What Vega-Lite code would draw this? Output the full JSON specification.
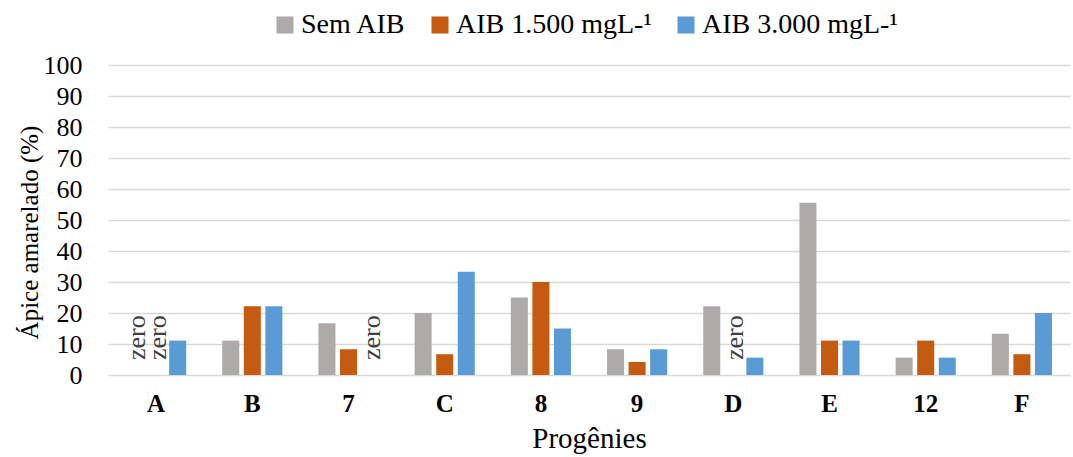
{
  "$schema": "https://vega.github.io/schema/vega-lite/v6.json",
  "width": 962,
  "height": 310,
  "autosize": "none",
  "padding": {"left": 108, "top": 65, "right": 3, "bottom": 82},
  "background": "white",
  "config": {
    "view": {"stroke": null},
    "font": "Liberation Serif",
    "axis": {"titleFont": "Liberation Serif", "labelFont": "Liberation Serif"},
    "legend": {"labelFont": "Liberation Serif"}
  },
  "data": {
    "values": [
      {"prog": "A", "trat": "Sem AIB", "val": 0},
      {"prog": "A", "trat": "AIB 1.500 mgL-¹", "val": 0},
      {"prog": "A", "trat": "AIB 3.000 mgL-¹", "val": 11.1},
      {"prog": "B", "trat": "Sem AIB", "val": 11.1},
      {"prog": "B", "trat": "AIB 1.500 mgL-¹", "val": 22.2},
      {"prog": "B", "trat": "AIB 3.000 mgL-¹", "val": 22.2},
      {"prog": "7", "trat": "Sem AIB", "val": 16.7},
      {"prog": "7", "trat": "AIB 1.500 mgL-¹", "val": 8.3},
      {"prog": "7", "trat": "AIB 3.000 mgL-¹", "val": 0},
      {"prog": "C", "trat": "Sem AIB", "val": 20},
      {"prog": "C", "trat": "AIB 1.500 mgL-¹", "val": 6.7},
      {"prog": "C", "trat": "AIB 3.000 mgL-¹", "val": 33.3},
      {"prog": "8", "trat": "Sem AIB", "val": 25},
      {"prog": "8", "trat": "AIB 1.500 mgL-¹", "val": 30},
      {"prog": "8", "trat": "AIB 3.000 mgL-¹", "val": 15},
      {"prog": "9", "trat": "Sem AIB", "val": 8.3},
      {"prog": "9", "trat": "AIB 1.500 mgL-¹", "val": 4.2},
      {"prog": "9", "trat": "AIB 3.000 mgL-¹", "val": 8.3},
      {"prog": "D", "trat": "Sem AIB", "val": 22.2},
      {"prog": "D", "trat": "AIB 1.500 mgL-¹", "val": 0},
      {"prog": "D", "trat": "AIB 3.000 mgL-¹", "val": 5.6},
      {"prog": "E", "trat": "Sem AIB", "val": 55.6},
      {"prog": "E", "trat": "AIB 1.500 mgL-¹", "val": 11.1},
      {"prog": "E", "trat": "AIB 3.000 mgL-¹", "val": 11.1},
      {"prog": "12", "trat": "Sem AIB", "val": 5.6},
      {"prog": "12", "trat": "AIB 1.500 mgL-¹", "val": 11.1},
      {"prog": "12", "trat": "AIB 3.000 mgL-¹", "val": 5.6},
      {"prog": "F", "trat": "Sem AIB", "val": 13.3},
      {"prog": "F", "trat": "AIB 1.500 mgL-¹", "val": 6.7},
      {"prog": "F", "trat": "AIB 3.000 mgL-¹", "val": 20}
    ]
  },
  "encoding": {
    "x": {
      "field": "prog",
      "type": "nominal",
      "sort": ["A", "B", "7", "C", "8", "9", "D", "E", "12", "F"],
      "scale": {"paddingInner": 0.33, "paddingOuter": 0.165},
      "axis": {
        "title": "Progênies",
        "titleFont": "Liberation Serif",
        "titleFontSize": 29,
        "titleFontWeight": "normal",
        "titleColor": "#000000",
        "titlePadding": 8,
        "labelAngle": 0,
        "labelFont": "Liberation Serif",
        "labelFontSize": 25,
        "labelFontWeight": "bold",
        "labelColor": "#000000",
        "labelPadding": 16,
        "domain": false,
        "ticks": false
      }
    },
    "xOffset": {
      "field": "trat",
      "type": "nominal",
      "sort": ["Sem AIB", "AIB 1.500 mgL-¹", "AIB 3.000 mgL-¹"],
      "scale": {"paddingInner": 0.21, "paddingOuter": 0.1}
    }
  },
  "layer": [
    {
      "mark": {"type": "bar"},
      "encoding": {
        "y": {
          "field": "val",
          "type": "quantitative",
          "scale": {"domain": [0, 100]},
          "axis": {
            "title": "Ápice amarelado (%)",
            "titleFont": "Liberation Serif",
            "titleFontSize": 25,
            "titleFontWeight": "normal",
            "titleColor": "#000000",
            "titleX": -79,
            "titleY": 167,
            "titleBaseline": "middle",
            "titleAlign": "center",
            "titleAngle": 270,
            "values": [0, 10, 20, 30, 40, 50, 60, 70, 80, 90, 100],
            "tickCount": 11,
            "labelOverlap": false,
            "labelFont": "Liberation Serif",
            "labelFontSize": 26,
            "labelColor": "#000000",
            "labelPadding": 26,
            "domain": false,
            "ticks": false,
            "gridColor": "#D9D9D9",
            "gridWidth": 1.5
          }
        },
        "color": {
          "field": "trat",
          "type": "nominal",
          "sort": ["Sem AIB", "AIB 1.500 mgL-¹", "AIB 3.000 mgL-¹"],
          "scale": {"range": ["#AEAAAA", "#C55A11", "#5B9BD5"]},
          "legend": {
            "title": null,
            "orient": "none",
            "legendX": 163,
            "legendY": -54,
            "direction": "horizontal",
            "symbolType": "square",
            "symbolSize": 290,
            "symbolStrokeWidth": 0,
            "labelFont": "Liberation Serif",
            "labelFontSize": 28,
            "labelColor": "#000000",
            "labelOffset": 2,
            "labelLimit": 400,
            "columnPadding": 20
          }
        }
      }
    },
    {
      "transform": [{"filter": "datum.val == 0"}],
      "mark": {
        "type": "text",
        "text": "zero",
        "angle": 270,
        "align": "left",
        "baseline": "middle",
        "dx": 15,
        "dy": 2,
        "font": "Liberation Serif",
        "fontSize": 26,
        "color": "#404040"
      },
      "encoding": {
        "y": {"datum": 0, "type": "quantitative"}
      }
    }
  ]
}
